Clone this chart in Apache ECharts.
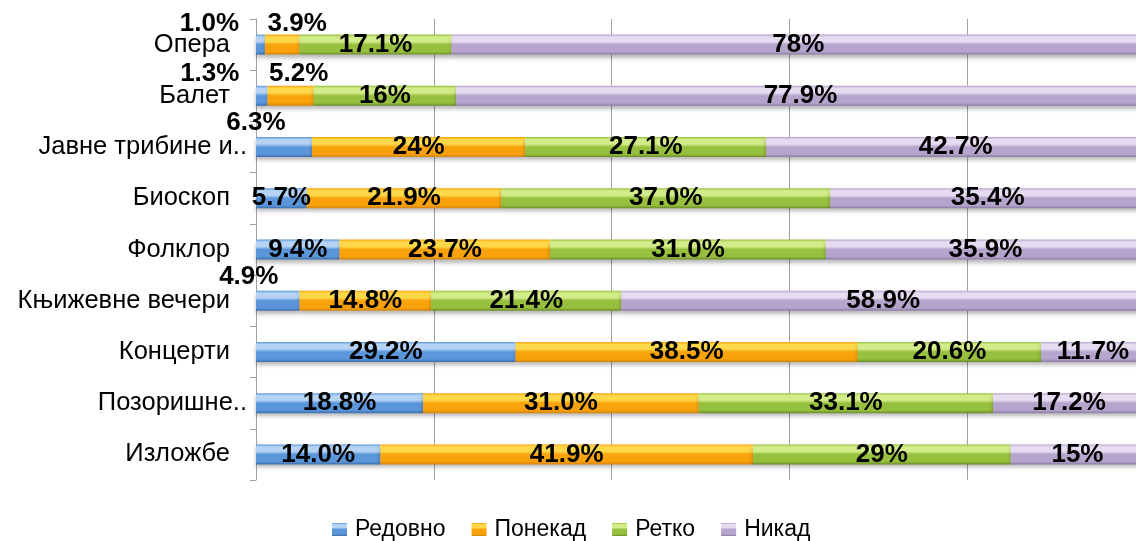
<!DOCTYPE html>
<html>
<head>
<meta charset="utf-8">
<style>
  html, body { margin: 0; padding: 0; background: #ffffff; }
  #chart { width: 1136px; height: 541px; }
</style>
<script src="https://cdn.jsdelivr.net/npm/echarts@6/dist/echarts.min.js"></script>
</head>
<body>
<div id="chart"></div>
<script>
// Categories, top to bottom
const categories = ['Опера', 'Балет', 'Јавне трибине и..', 'Биоскоп', 'Фолклор',
  'Књижевне вечери', 'Концерти', 'Позоришне..', 'Изложбе'];

// Shares in percent, written as they are printed on the bars
const redovno = ['1.0', '1.3', '6.3', '5.7', '9.4', '4.9', '29.2', '18.8', '14.0'];
const ponekad = ['3.9', '5.2', '24', '21.9', '23.7', '14.8', '38.5', '31.0', '41.9'];
const retko   = ['17.1', '16', '27.1', '37.0', '31.0', '21.4', '20.6', '33.1', '29'];
const nikad   = ['78', '77.9', '42.7', '35.4', '35.9', '58.9', '11.7', '17.2', '15'];

const seriesNames = ['Редовно', 'Понекад', 'Ретко', 'Никад'];
const xTicks = [0, 20, 40, 60, 80, 100];

// Labels of narrow segments sit above the bar: [series index, category index, dx, dy]
const liftedLabels = [
  [0, 0, -51, -21], [1, 0, 15, -21],
  [0, 1, -52, -22], [1, 1, 8, -22],
  [0, 2, -28, -24],
  [0, 5, -29, -24]
];

// Bevel-like shading per series: highlight, base, shade
const palette = [
  ['#b4d3f5', '#5b96da', '#3d6fae'],
  ['#ffd84a', '#f9a20c', '#d4840a'],
  ['#d3ec8a', '#97c03e', '#6c8d27'],
  ['#e6dcf2', '#b5a4cb', '#8c7ca6']
];

function shade(c) {
  return {
    type: 'linear', x: 0, y: 0, x2: 0, y2: 1,
    colorStops: [
      { offset: 0, color: c[1] },
      { offset: 0.12, color: c[0] },
      { offset: 0.35, color: c[0] },
      { offset: 0.5, color: c[1] },
      { offset: 0.85, color: c[1] },
      { offset: 1, color: c[2] }
    ]
  };
}

const FONT = '"Liberation Sans", Arial, sans-serif';
const raw = [redovno, ponekad, retko, nikad];

const series = raw.map((vals, si) => ({
  name: seriesNames[si],
  type: 'bar',
  stack: 'total',
  barWidth: 20,
  itemStyle: {
    color: shade(palette[si]),
    shadowColor: 'rgba(0,0,0,0.28)',
    shadowBlur: 4,
    shadowOffsetY: 3
  },
  label: {
    show: true,
    position: 'inside',
    color: '#000',
    fontFamily: FONT,
    fontWeight: 'bold',
    fontSize: 26,
    formatter: p => vals[p.dataIndex] + '%'
  },
  data: vals.map((s, ci) => {
    const item = { value: parseFloat(s) };
    const lift = liftedLabels.find(l => l[0] === si && l[1] === ci);
    if (lift) item.label = { offset: [lift[2], lift[3]] };
    return item;
  })
}));

const chart = echarts.init(document.getElementById('chart'), null, { renderer: 'canvas' });
chart.setOption({
  animation: false,
  backgroundColor: '#ffffff',
  grid: { left: 256, right: -9, top: 19, bottom: 61, containLabel: false, outerBoundsMode: 'none' },
  legend: {
    data: seriesNames,
    top: 513,
    left: 327,
    icon: 'rect',
    itemWidth: 15,
    itemHeight: 13,
    itemGap: 26,
    textStyle: { fontFamily: FONT, fontSize: 23, color: '#000', padding: [0, 0, 0, 3] }
  },
  xAxis: {
    type: 'value',
    min: xTicks[0],
    max: xTicks[xTicks.length - 1],
    interval: xTicks[1] - xTicks[0],
    axisLabel: { show: false },
    axisLine: { show: false },
    axisTick: { show: false },
    splitLine: { show: true, lineStyle: { color: '#a0a0a0', width: 1 } }
  },
  yAxis: {
    type: 'category',
    inverse: true,
    data: categories,
    axisLine: { show: true, lineStyle: { color: '#a0a0a0', width: 1 } },
    axisTick: { show: true, length: 6, lineStyle: { color: '#a0a0a0' } },
    axisLabel: {
      margin: 9,
      fontFamily: FONT,
      fontSize: 25.5,
      color: '#000',
      formatter: v => v.endsWith('..') ? '{t|' + v + '}' : '{n|' + v + '}',
      rich: {
        n: { fontFamily: FONT, fontSize: 25.5, color: '#000', padding: [0, 17, 0, 0] },
        t: { fontFamily: FONT, fontSize: 25.5, color: '#000', padding: [0, 0, 0, 0] }
      }
    }
  },
  series: series
});
</script>
</body>
</html>
